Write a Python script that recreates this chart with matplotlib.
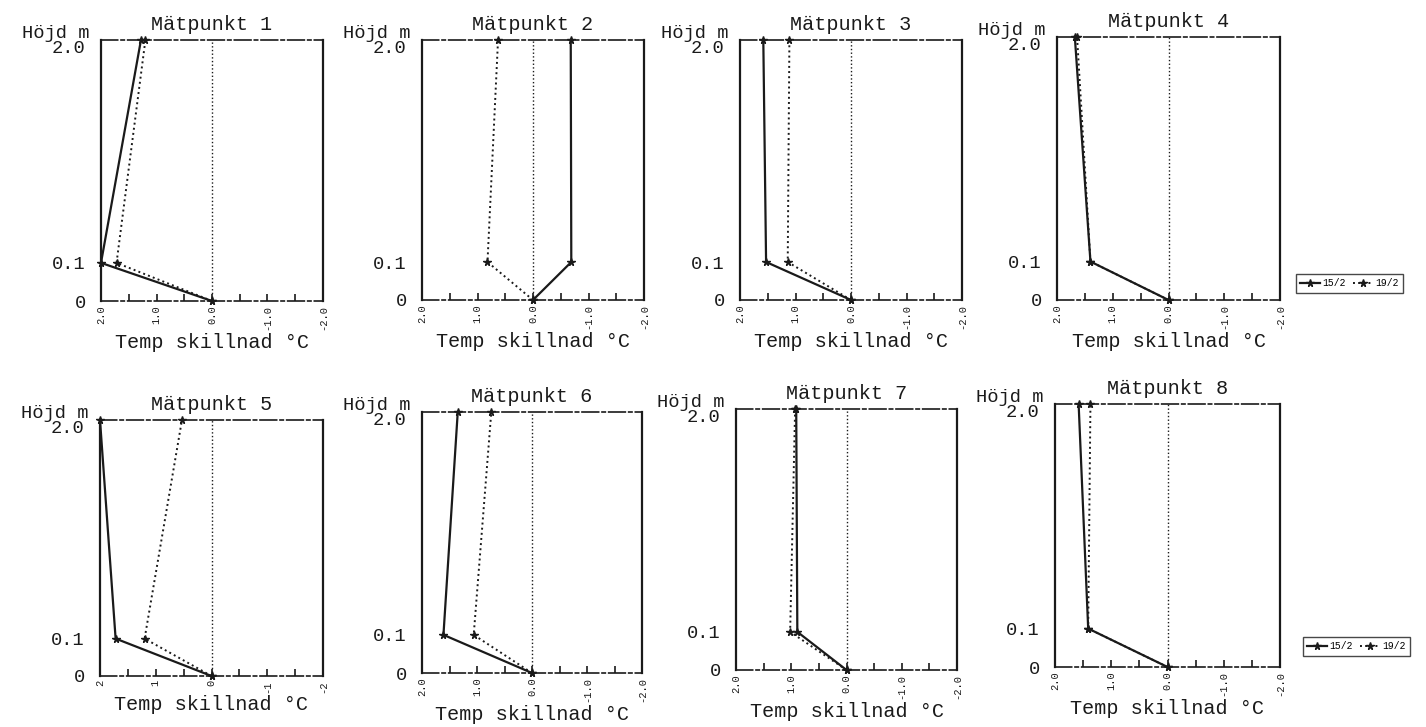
import matplotlib.pyplot as plt
import numpy as np
from matplotlib.scale import FuncScale
from matplotlib.ticker import FixedLocator, MultipleLocator

plt.rcParams['font.family'] = ['Liberation Mono', 'DejaVu Sans Mono']

# Measurement heights (m) and temperature difference (°C) relative to ground
heights = [0, 0.1, 2.0]
panel_names = ['Mätpunkt 1', 'Mätpunkt 2', 'Mätpunkt 3', 'Mätpunkt 4',
               'Mätpunkt 5', 'Mätpunkt 6', 'Mätpunkt 7', 'Mätpunkt 8']
series_labels = ['15/2', '19/2']

temp_15_2 = [
    [0.0, 2.00, 1.28],
    [0.0, -0.69, -0.68],
    [0.0, 1.53, 1.58],
    [0.0, 1.40, 1.68],
    [0.0, 1.72, 2.00],
    [0.0, 1.61, 1.35],
    [0.0, 0.89, 0.91],
    [0.0, 1.41, 1.58],
]
temp_19_2 = [
    [0.0, 1.72, 1.20],
    [0.0, 0.82, 0.63],
    [0.0, 1.14, 1.11],
    [0.0, 1.40, 1.64],
    [0.0, 1.20, 0.53],
    [0.0, 1.06, 0.74],
    [0.0, 1.02, 0.93],
    [0.0, 1.41, 1.37],
]

x_ticks = [2.0, 1.0, 0.0, -1.0, -2.0]
x_labels = ['2.0', '1.0', '0.0', '-1.0', '-2.0']
x_labels_int = ['2', '1', '0', '-1', '-2']
y_ticks = [0, 0.1, 2.0]
y_labels = ['0', '0.1', '2.0']

W, H = 1426, 727
# panel frames in pixels: left, top, right, bottom
boxes = [
    (101, 40, 323, 301), (422, 40, 644, 300), (740, 40, 962, 300), (1057, 37, 1280, 300),
    (100, 420, 323, 676), (422, 412, 642, 673), (736, 409, 957, 670), (1055, 404, 1280, 667),
]

ink = '#1a1a1a'
P = 0.642


def fwd(y):
    y = np.asarray(y, dtype=float)
    return np.sign(y) * np.abs(y) ** P


def inv(y):
    y = np.asarray(y, dtype=float)
    return np.sign(y) * np.abs(y) ** (1 / P)


fig = plt.figure(figsize=(W / 100, H / 100), dpi=100)

axes = []
for i, (l, t, r, b) in enumerate(boxes):
    ax = fig.add_axes([l / W, 1 - b / H, (r - l) / W, (b - t) / H])
    axes.append(ax)
    ax.set_yscale(FuncScale(ax.yaxis, (fwd, inv)))
    ax.set_ylim(0, 2.0)
    ax.set_xlim(2.0, -2.0)

    ax.axvline(0, color=ink, lw=1.0, ls=':')
    ax.plot(temp_15_2[i], heights, color=ink, lw=1.6, ls='-', marker='*',
            ms=5.5, label=series_labels[0], clip_on=False)
    ax.plot(temp_19_2[i], heights, color=ink, lw=1.4, ls=':', marker='*',
            ms=5.5, label=series_labels[1], clip_on=False)

    for side in ['left', 'right']:
        ax.spines[side].set_linewidth(1.6)
        ax.spines[side].set_color(ink)
    for side in ['top', 'bottom']:
        ax.spines[side].set_linewidth(1.2)
        ax.spines[side].set_color(ink)
        ax.spines[side].set_linestyle((0, (10, 2, 2, 2)))

    ax.xaxis.set_major_locator(FixedLocator(x_ticks))
    ax.set_xticklabels(x_labels_int if i == 4 else x_labels, rotation=90, fontsize=7.5)
    ax.xaxis.set_minor_locator(MultipleLocator(0.5))
    ax.tick_params(axis='x', which='both', direction='in', length=5, width=1.2,
                   color=ink, labelcolor=ink, pad=3)

    ax.set_yticks(y_ticks)
    ax.set_yticklabels(y_labels, fontsize=13.5)
    ax.tick_params(axis='y', length=0, pad=11, labelcolor=ink)
    ax.get_yticklabels()[-1].set_verticalalignment('top')

    ax.set_title(panel_names[i], fontsize=14.5, pad=7, color=ink)
    ax.set_xlabel('Temp skillnad °C', fontsize=14.5, labelpad=2, color=ink)
    ax.annotate('Höjd m', xy=(0, 1), xycoords='axes fraction', xytext=(-8, 5),
                textcoords='offset points', ha='right', va='center',
                fontsize=13.5, color=ink)

# legends to the right of the last panel in each row
for ax, (x0, y0) in [(axes[3], (1296, 274)), (axes[7], (1303, 637))]:
    leg = ax.legend(loc='upper left', bbox_to_anchor=(x0 / W, 1 - y0 / H),
                    bbox_transform=fig.transFigure, ncol=2, fontsize=7,
                    handlelength=2.0, columnspacing=0.7, handletextpad=0.3,
                    borderpad=0.45, borderaxespad=0, fancybox=False, frameon=True)
    leg.get_frame().set_edgecolor(ink)
    leg.get_frame().set_linewidth(1.0)

fig.savefig('out.png', dpi=100)
